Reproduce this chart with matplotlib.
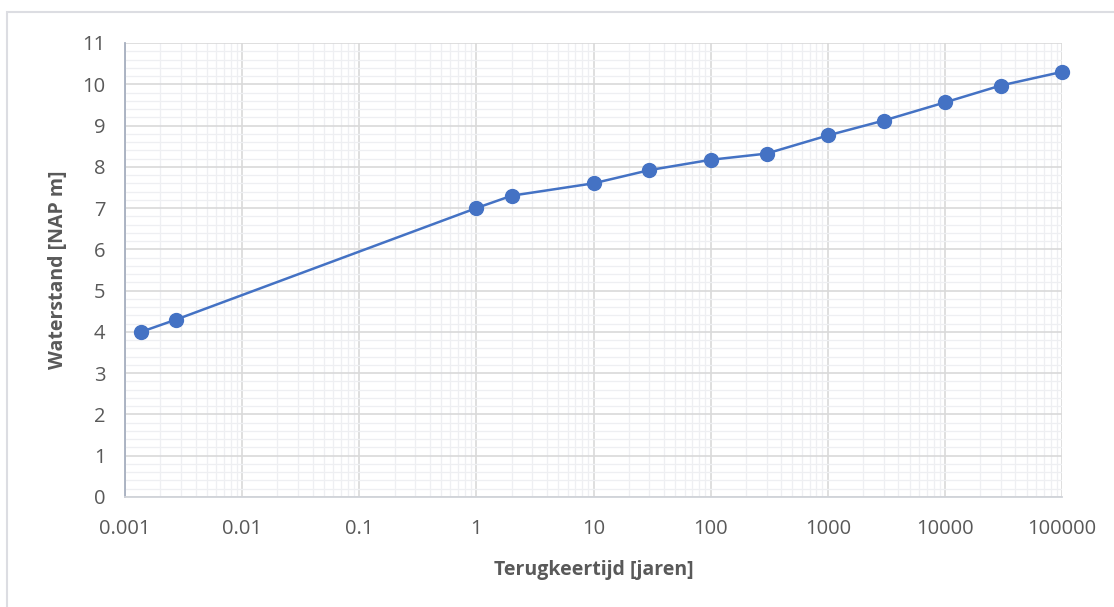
import numpy as np
import matplotlib.pyplot as plt
import matplotlib.ticker as ticker
from matplotlib.patches import Rectangle

# terugkeertijd (jaren) en waterstand (NAP m)
terugkeertijd = [1 / 730, 1 / 365, 1, 2, 10, 30, 100, 300, 1000, 3000, 10000, 30000, 100000]
waterstand = [4.0, 4.3, 7.0, 7.3, 7.6, 7.92, 8.17, 8.32, 8.76, 9.12, 9.56, 9.97, 10.3]

x_ticks = [0.001, 0.01, 0.1, 1, 10, 100, 1000, 10000, 100000]
x_labels = ["0.001", "0.01", "0.1", "1", "10", "100", "1000", "10000", "100000"]

plt.rcParams['font.family'] = ['Open Sans', 'DejaVu Sans']
text_color = "#595959"

fig = plt.figure(figsize=(11.14, 6.07), dpi=100)
ax = fig.add_axes([125 / 1114, 1 - 497 / 607, (1062 - 125) / 1114, (497 - 43) / 607])

# lichte rand om de grafiek (loopt rechts en onder buiten beeld)
fig.patches.append(Rectangle((7 / 1114, -0.05), 1.0, 1.05 - 12 / 607, transform=fig.transFigure,
                             fill=False, edgecolor="#dcdde2", linewidth=1.5))

ax.set_xscale("log")
ax.set_xlim(0.001, 100000)
ax.set_ylim(0, 11)

ax.xaxis.set_major_locator(ticker.FixedLocator(x_ticks))
ax.xaxis.set_major_formatter(ticker.FixedFormatter(x_labels))
ax.xaxis.set_minor_locator(ticker.LogLocator(base=10, subs=np.arange(2, 10), numticks=20))
ax.xaxis.set_minor_formatter(ticker.NullFormatter())
ax.yaxis.set_major_locator(ticker.MultipleLocator(1))
ax.yaxis.set_minor_locator(ticker.MultipleLocator(0.2))

ax.grid(which="major", color="#d9d9d9", linewidth=1.2)
ax.grid(which="minor", color="#eeeff2", linewidth=0.9)
ax.set_axisbelow(True)

ax.tick_params(which="both", length=0)
ax.tick_params(axis="x", labelsize=14.5, labelcolor=text_color, pad=16)
ax.tick_params(axis="y", labelsize=14.5, labelcolor=text_color, pad=14)

for side in ["top", "right"]:
    ax.spines[side].set_visible(False)
ax.spines["left"].set_color("#a6afbf")
ax.spines["left"].set_linewidth(1.3)
ax.spines["bottom"].set_color("#d0d3d9")
ax.spines["bottom"].set_linewidth(1.3)

ax.plot(terugkeertijd, waterstand, color="#4472C4", linewidth=1.8,
        marker="o", markersize=10, markerfacecolor="#4472C4",
        markeredgecolor="#4472C4", clip_on=False, zorder=5)

ax.set_xlabel("Terugkeertijd [jaren]", fontsize=14, fontweight="bold",
              color=text_color, labelpad=15)
ax.set_ylabel("Waterstand [NAP m]", fontsize=14, fontweight="bold",
              color=text_color, labelpad=10)

fig.savefig("out.png", dpi=100)
